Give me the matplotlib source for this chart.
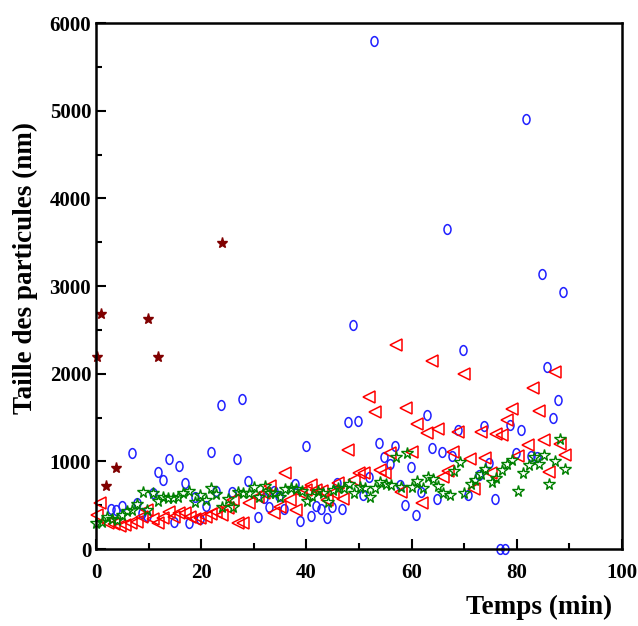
import matplotlib
matplotlib.use('Agg')
import matplotlib.pyplot as plt
from matplotlib.path import Path
from matplotlib.transforms import Affine2D
from matplotlib.ticker import MultipleLocator

# blue circles
t_blue = [2.9, 3.8, 4.9, 6.8, 7.8, 8.7, 9.7, 10.8, 11.8, 12.7, 13.9, 14.8, 15.8, 16.9,
          17.7, 18.8, 19.8, 20.9, 21.9, 22.8, 23.8, 25.9, 26.8, 27.8, 28.9, 30.8, 31.9,
          32.9, 33.8, 34.8, 35.7, 37.8, 38.8, 39.9, 40.9, 41.8, 42.8, 43.9, 44.9, 45.8,
          46.8, 47.9, 48.9, 49.8, 50.8, 51.9, 52.9, 53.8, 54.8, 55.9, 56.8, 57.8, 58.7,
          59.9, 60.8, 61.8, 62.9, 63.9, 64.8, 65.8, 66.7, 67.7, 68.8, 69.8, 70.7, 72.8,
          73.8, 74.7, 75.9, 76.8, 77.8, 78.7, 79.8, 80.8, 81.7, 82.7, 83.8, 84.8, 85.7,
          86.9, 87.8, 88.8]
d_blue = [455, 444, 490, 1093, 524, 410, 376, 638, 877, 786, 1025, 307, 945, 752,
          296, 592, 342, 490, 1105, 661, 1640, 649, 1025, 1708, 774, 364, 581,
          478, 661, 604, 456, 740, 319, 1173, 376, 490, 456, 353, 478, 752,
          456, 1446, 2551, 1458, 615, 820, 5797, 1207, 1048, 968, 1173, 729, 501,
          934, 387, 649, 1526, 1150, 569, 1105, 3656, 1059, 1355, 2266, 615, 843,
          1401, 980, 569, 0, 0, 1412, 1093, 1355, 4909, 1059, 1048, 3143, 2073,
          1492, 1697, 2927]

# red triangles
t_red = [0.2, 0.8, 2.3, 3.4, 4.6, 5.5, 6.7, 7.8, 8.8, 9.7, 10.9, 11.8, 12.8, 13.9,
         14.9, 15.8, 17.0, 17.9, 18.9, 19.8, 21.0, 21.9, 22.9, 23.9, 25.0, 26.0, 26.9,
         27.9, 29.0, 30.7, 31.9, 33.0, 33.8, 34.9, 35.9, 36.8, 38.0, 38.9, 39.9, 40.8,
         41.8, 42.9, 43.9, 45.0, 46.0, 46.9, 47.9, 49.0, 50.0, 51.0, 51.9, 53.1, 54.0,
         55.0, 55.9, 57.1, 58.0, 59.0, 60.1, 61.1, 62.0, 63.0, 63.9, 65.1, 66.0, 67.0,
         67.9, 68.9, 70.0, 71.0, 71.9, 73.1, 74.0, 75.0, 76.1, 77.1, 78.1, 79.0, 80.2,
         82.1, 83.0, 84.2, 85.1, 86.1, 87.2, 88.2, 89.1]
d_red = [387, 524, 296, 285, 262, 273, 296, 308, 364, 444, 342, 296, 353, 421,
         364, 410, 410, 364, 342, 353, 364, 399, 421, 387, 467, 558, 296,
         296, 524, 592, 638, 718, 410, 478, 866, 558, 444, 638, 672, 729,
         672, 661, 558, 638, 752, 569, 1128, 786, 866, 866, 1731, 1560, 900,
         866, 1093, 2323, 649, 1606, 1105, 1424, 524, 1321, 2141, 1367, 820, 888,
         1105, 1333, 1993, 1025, 683, 1333, 1036, 866, 1310, 1298, 1469, 1595, 1059,
         1185, 1834, 1572, 1241, 877, 2016, 1196, 1071]

# green stars
t_green = [0.0, 1.1, 2.1, 3.1, 4.0, 5.0, 5.9, 6.9, 7.8, 9.0, 9.7, 10.9, 11.8, 12.8,
           13.7, 14.7, 15.6, 16.6, 17.6, 18.9, 19.8, 21.0, 21.9, 22.9, 24.0, 25.0, 26.0,
           26.9, 27.9, 29.0, 30.0, 30.9, 32.1, 33.0, 34.0, 34.9, 35.9, 37.0, 38.0, 39.1,
           40.1, 41.0, 42.2, 43.1, 44.1, 45.0, 46.0, 47.1, 48.1, 49.0, 50.2, 51.1, 52.1,
           53.1, 54.0, 55.2, 56.1, 57.1, 58.0, 59.2, 60.1, 61.1, 62.2, 63.2, 64.1, 65.1,
           66.0, 67.2, 68.1, 69.1, 70.0, 71.2, 72.1, 73.1, 74.0, 75.2, 76.1, 77.1, 78.1,
           79.0, 80.2, 81.1, 82.3, 83.2, 84.2, 85.1, 86.1, 87.2, 88.2, 89.1]
d_green = [296, 308, 364, 342, 330, 387, 433, 444, 513, 649, 444, 638, 547, 592,
           581, 581, 592, 638, 661, 535, 615, 558, 695, 626, 478, 569, 478,
           649, 638, 638, 706, 592, 718, 638, 638, 592, 683, 695, 683, 661,
           547, 604, 661, 638, 535, 672, 695, 695, 740, 638, 706, 695, 592,
           695, 763, 740, 729, 1048, 706, 1093, 706, 774, 695, 820, 797, 718,
           638, 615, 888, 991, 638, 740, 786, 854, 911, 763, 809, 900, 968,
           1014, 661, 866, 957, 1048, 968, 1071, 740, 1002, 1253, 911]

# dark red filled stars
t_dark = [0.2, 1.0, 1.9, 3.8, 9.9, 11.8, 23.9]
d_dark = [2187, 2677, 718, 922, 2620, 2187, 3497]

plt.rcParams['font.family'] = 'Liberation Serif'
plt.rcParams['font.weight'] = 'bold'

ellipse = Path.unit_circle().transformed(Affine2D().scale(0.72, 1.0))

fig = plt.figure(figsize=(6.38, 6.26), dpi=100)
ax = fig.add_axes([0.1505, 0.123, 0.8245, 0.84])

ax.plot(t_blue, d_blue, linestyle='none', marker=ellipse, markersize=7,
        markerfacecolor='none', markeredgecolor='#2020ff', markeredgewidth=1.1, clip_on=False)
ax.plot(t_red, d_red, linestyle='none', marker='<', markersize=9,
        markerfacecolor='none', markeredgecolor='#ff0000', markeredgewidth=1.1, clip_on=False)
ax.plot(t_green, d_green, linestyle='none', marker='*', markersize=8.5,
        markerfacecolor='none', markeredgecolor='#008000', markeredgewidth=1.0, clip_on=False)
ax.plot(t_dark, d_dark, linestyle='none', marker='*', markersize=8,
        markerfacecolor='#800000', markeredgecolor='#800000', clip_on=False)

ax.set_xlim(0, 100)
ax.set_ylim(0, 6000)
ax.xaxis.set_major_locator(MultipleLocator(20))
ax.xaxis.set_minor_locator(MultipleLocator(10))
ax.yaxis.set_major_locator(MultipleLocator(1000))
ax.yaxis.set_minor_locator(MultipleLocator(500))
ax.tick_params(which='both', direction='in', top=False, right=False, width=1.5, labelsize=15)
ax.tick_params(which='major', length=7)
ax.tick_params(axis='x', which='major', pad=10)
ax.tick_params(which='minor', length=4)
for s in ax.spines.values():
    s.set_linewidth(1.8)

ax.set_xlabel('Temps (min)', fontsize=19.5, fontweight='bold')
ax.xaxis.set_label_coords(0.842, -0.087)
ax.set_ylabel('Taille des particules (nm)', fontsize=19.5, fontweight='bold')
ax.yaxis.set_label_coords(-0.11, 0.535)

fig.savefig('out.png', dpi=100)
